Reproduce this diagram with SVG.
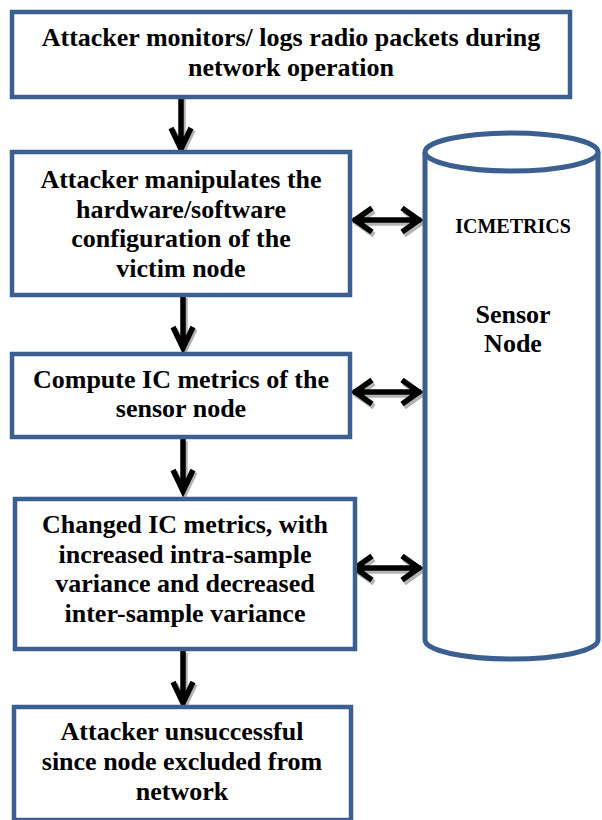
<svg xmlns="http://www.w3.org/2000/svg" xmlns:xlink="http://www.w3.org/1999/xlink" width="602" height="820" viewBox="0 0 602 820">
<style>
.box{fill:#fff;stroke:#3b5f8e;stroke-width:4.5}
.cyl{fill:#fff;stroke:#3b5f8e;stroke-width:5}
.t{font-family:"Liberation Serif","Times New Roman",serif;font-weight:bold;font-size:26px;fill:#000;text-anchor:middle}
.ts{font-size:20px}
.ar{fill:none;stroke:#000;stroke-width:5.5;stroke-linejoin:miter;stroke-linecap:butt}
.sh{fill:none;stroke:#a0a0a0;stroke-width:5.5;stroke-linejoin:miter;opacity:0.8}
</style>
<defs>
<g id="dbl">
<path d="M353,0 L421,0 M372,-12 L355,0 L372,12 M402,-12 L419,0 L402,12"/>
</g>
<g id="down">
<path d="M0,0 L0,53 M-10,31 L0,52 L10,31"/>
</g>
</defs>
<rect width="602" height="820" fill="#fff"/>
<g id="connectors">
<use xlink:href="#down" class="sh" transform="translate(183,99)"/>
<use xlink:href="#down" class="ar" transform="translate(181,97)"/>
<use xlink:href="#down" class="sh" transform="translate(185,298)"/>
<use xlink:href="#down" class="ar" transform="translate(183,296)"/>
<use xlink:href="#down" class="sh" transform="translate(185,441)"/>
<use xlink:href="#down" class="ar" transform="translate(183,439)"/>
<use xlink:href="#down" class="sh" transform="translate(185,653)"/>
<use xlink:href="#down" class="ar" transform="translate(183,651)"/>
<use xlink:href="#dbl" class="sh" transform="translate(2,223)"/>
<use xlink:href="#dbl" class="ar" transform="translate(0,220)"/>
<use xlink:href="#dbl" class="sh" transform="translate(2,395)"/>
<use xlink:href="#dbl" class="ar" transform="translate(0,392)"/>
<use xlink:href="#dbl" class="sh" transform="translate(2,571)"/>
<use xlink:href="#dbl" class="ar" transform="translate(0,568)"/>
</g>
<g id="n1">
<rect class="box" x="12" y="12" width="558" height="85"/>
<text class="t" x="291" y="46">Attacker monitors/ logs radio packets during</text>
<text class="t" x="291" y="76">network operation</text>
</g>
<g id="n2">
<rect class="box" x="12" y="152" width="338" height="143"/>
<text class="t" x="181" y="188">Attacker manipulates the</text>
<text class="t" x="181" y="218">hardware/software</text>
<text class="t" x="181" y="247">configuration of the</text>
<text class="t" x="181" y="277">victim node</text>
</g>
<g id="n3">
<rect class="box" x="12" y="354" width="338" height="83"/>
<text class="t" x="181" y="388">Compute IC metrics of the</text>
<text class="t" x="181" y="417">sensor node</text>
</g>
<g id="n4">
<rect class="box" x="15" y="499" width="340" height="150"/>
<text class="t" x="185" y="533">Changed IC metrics, with</text>
<text class="t" x="185" y="563">increased intra-sample</text>
<text class="t" x="185" y="592">variance and decreased</text>
<text class="t" x="185" y="622">inter-sample variance</text>
</g>
<g id="n5">
<rect class="box" x="14" y="707" width="337" height="113"/>
<text class="t" x="182" y="740">Attacker unsuccessful</text>
<text class="t" x="182" y="770">since node excluded from</text>
<text class="t" x="182" y="800">network</text>
</g>
<g id="cyl">
<path class="cyl" d="M425,152 L425,640 A86.5,19 0 0 0 598,640 L598,152"/>
<ellipse class="cyl" cx="511.5" cy="152" rx="86.5" ry="19"/>
<text class="t ts" x="513" y="233">ICMETRICS</text>
<text class="t" x="513" y="323">Sensor</text>
<text class="t" x="513" y="352">Node</text>
</g>
</svg>
